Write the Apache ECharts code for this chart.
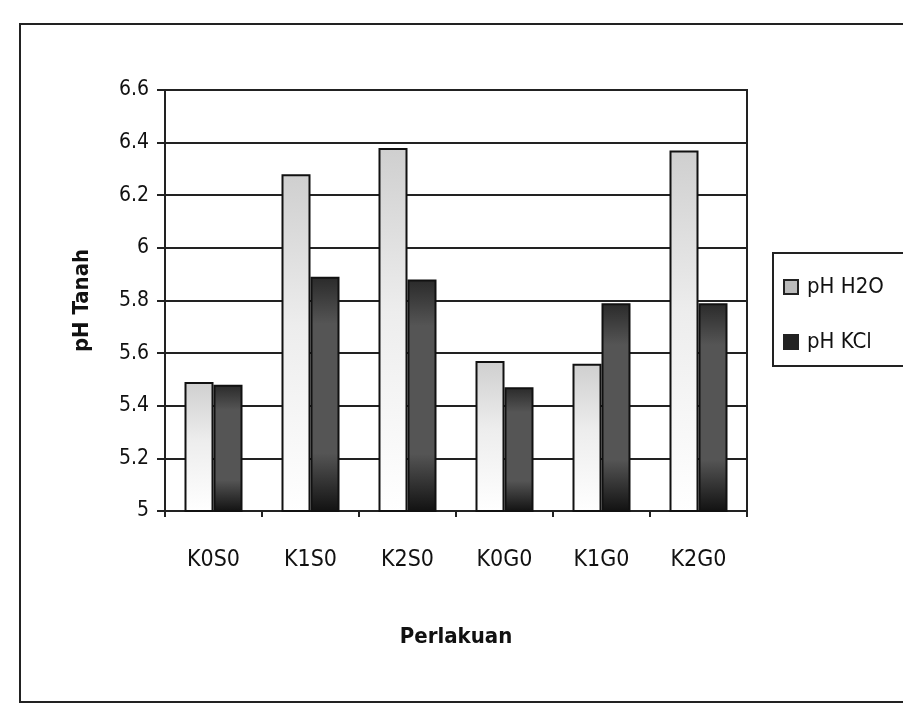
<!DOCTYPE html>
<html>
<head>
<meta charset="utf-8">
<script src="https://cdn.jsdelivr.net/npm/echarts@6/dist/echarts.min.js"></script>
<style>
  html, body { margin: 0; padding: 0; background: #fff; }
  #chart { width: 903px; height: 708px; }
</style>
</head>
<body>
<div id="chart"></div>
<script>
// Soil pH per treatment
const categories = ['K0S0', 'K1S0', 'K2S0', 'K0G0', 'K1G0', 'K2G0'];
const phH2O = [5.49, 6.28, 6.38, 5.57, 5.56, 6.37];
const phKCl = [5.48, 5.89, 5.88, 5.47, 5.79, 5.79];
const seriesNames = ['pH H2O', 'pH KCl'];

const FONT = "'DejaVu Sans Condensed', 'Liberation Sans Narrow', 'Arial Narrow', sans-serif";

const chart = echarts.init(document.getElementById('chart'));

const lightFill = new echarts.graphic.LinearGradient(0, 0, 0, 1, [
  { offset: 0, color: '#cfcfcf' },
  { offset: 0.45, color: '#ededed' },
  { offset: 1, color: '#ffffff' }
]);
const darkFill = new echarts.graphic.LinearGradient(0, 0, 0, 1, [
  { offset: 0, color: '#2a2a2a' },
  { offset: 0.2, color: '#555555' },
  { offset: 0.75, color: '#555555' },
  { offset: 1, color: '#111111' }
]);

chart.setOption({
  backgroundColor: '#ffffff',
  animation: false,
  graphic: [
    {
      type: 'rect',
      shape: { x: 20, y: 24, width: 900, height: 678 },
      style: { fill: 'none', stroke: '#222', lineWidth: 2 },
      z: -1
    },
    {
      type: 'rect',
      shape: { x: 773, y: 253, width: 140, height: 113 },
      style: { fill: '#fff', stroke: '#222', lineWidth: 2 },
      z: 0
    }
  ],
  grid: {
    left: 165, right: 156, top: 90, bottom: 197,
    show: true, borderColor: '#222', borderWidth: 2, backgroundColor: 'transparent'
  },
  legend: {
    data: [
      { name: seriesNames[0], itemStyle: { color: '#bbbbbb', borderColor: '#222', borderWidth: 2 } },
      { name: seriesNames[1], itemStyle: { color: '#222222', borderColor: '#222', borderWidth: 2 } }
    ],
    orient: 'vertical',
    left: 778, top: 271,
    itemWidth: 14, itemHeight: 14, itemGap: 33,
    icon: 'rect',
    textStyle: { fontFamily: FONT, fontSize: 22, color: '#111', padding: [0, 0, 0, 4] }
  },
  xAxis: {
    type: 'category',
    data: categories,
    name: 'Perlakuan',
    nameLocation: 'middle',
    nameGap: 115,
    nameTextStyle: { fontFamily: FONT, fontSize: 22, fontWeight: 'bold', color: '#111' },
    axisLine: { lineStyle: { color: '#222', width: 2 } },
    axisTick: { show: true, length: 6, lineStyle: { color: '#222', width: 2 } },
    axisLabel: { fontFamily: FONT, fontSize: 23, color: '#111', margin: 38 }
  },
  yAxis: {
    type: 'value',
    min: 5, max: 6.6, interval: 0.2,
    name: 'pH Tanah',
    nameLocation: 'middle',
    nameGap: 72,
    nameTextStyle: { fontFamily: FONT, fontSize: 22, fontWeight: 'bold', color: '#111' },
    axisLine: { show: true, lineStyle: { color: '#222', width: 2 } },
    axisTick: { show: true, length: 8, lineStyle: { color: '#222', width: 2 } },
    axisLabel: { fontFamily: FONT, fontSize: 21, color: '#111', margin: 16 },
    splitLine: { lineStyle: { color: '#222', width: 2 } }
  },
  series: [
    {
      name: seriesNames[0],
      type: 'bar',
      data: phH2O,
      barWidth: 29,
      barGap: '0%',
      itemStyle: { color: lightFill, borderColor: '#111', borderWidth: 2 }
    },
    {
      name: seriesNames[1],
      type: 'bar',
      data: phKCl,
      barWidth: 29,
      itemStyle: { color: darkFill, borderColor: '#111', borderWidth: 2 }
    }
  ]
});
</script>
</body>
</html>
